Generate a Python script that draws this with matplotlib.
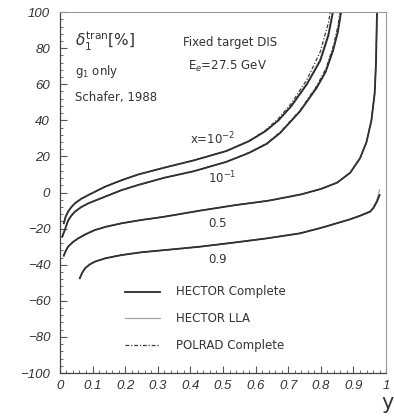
import matplotlib.pyplot as plt
from matplotlib.ticker import MultipleLocator

# radiative correction curves, one per Bjorken x, three calculations each
x_c1 = [0.012, 0.018, 0.025, 0.035, 0.046, 0.065, 0.087, 0.138, 0.19, 0.24, 0.32, 0.41, 0.51, 0.58, 0.63, 0.67, 0.71, 0.757, 0.798, 0.823, 0.837]
hec_c1 = [-17, -13.2, -10.6, -8.1, -6, -3.5, -1.4, 3.2, 6.9, 10, 13.8, 17.8, 23, 28.5, 34, 40, 48, 60, 73, 87, 100]
lla_c1 = [-17, -13.2, -10.6, -8.1, -6, -3.5, -1.4, 3.2, 6.9, 10, 13.8, 17.8, 23, 28.5, 34, 40, 48.5, 60.5, 74, 88.5, 101]
pol_c1 = [-17, -13.2, -10.6, -8.1, -6, -3.5, -1.4, 3.2, 6.9, 10, 13.8, 17.8, 23, 28.7, 34.5, 41, 49.5, 62.5, 78, 94, 108]

x_c2 = [0.007, 0.015, 0.025, 0.035, 0.046, 0.065, 0.087, 0.138, 0.19, 0.24, 0.32, 0.41, 0.51, 0.58, 0.634, 0.675, 0.736, 0.787, 0.815, 0.838, 0.852, 0.862]
hec_c2 = [-24.5, -20.8, -15.6, -12.8, -10.6, -8.1, -6, -2.3, 1.4, 4.2, 8.2, 11.8, 17, 22, 27, 33, 45, 58, 67, 79, 89, 100]
lla_c2 = [-24.5, -20.8, -15.6, -12.8, -10.6, -8.1, -6, -2.3, 1.4, 4.2, 8.2, 11.8, 17, 22, 27, 33, 45, 58.5, 67.5, 80, 90, 101]
pol_c2 = [-24.5, -20.8, -15.6, -12.8, -10.6, -8.1, -6, -2.3, 1.4, 4.2, 8.2, 11.8, 17, 22.2, 27.3, 33.5, 45.5, 59, 68.5, 81, 92, 104]

x_c3 = [0.012, 0.018, 0.025, 0.04, 0.056, 0.08, 0.107, 0.14, 0.19, 0.25, 0.32, 0.43, 0.54, 0.64, 0.74, 0.80, 0.85, 0.89, 0.92, 0.94, 0.955, 0.965, 0.969, 0.972]
hec_c3 = [-35, -32.3, -30, -27.4, -25.4, -23, -20.8, -19, -17, -15.2, -13.4, -10, -6.9, -4.5, -1, 2, 5.5, 11, 19, 28, 40, 55, 72, 100]
lla_c3 = [-35, -32.3, -30, -27.4, -25.4, -23, -20.8, -19, -17, -15.2, -13.4, -10, -6.9, -4.5, -1, 2, 5.5, 11, 19, 28.5, 41, 56, 74, 102]
pol_c3 = [-35, -32.3, -30, -27.4, -25.4, -23, -20.8, -19, -17, -15.2, -13.4, -10, -6.9, -4.5, -1, 2, 5.5, 11, 19, 28, 40, 55, 72, 100]

x_c4 = [0.061, 0.068, 0.077, 0.09, 0.107, 0.14, 0.19, 0.25, 0.32, 0.43, 0.53, 0.634, 0.736, 0.8, 0.849, 0.89, 0.92, 0.951, 0.961, 0.972, 0.98]
hec_c4 = [-47.5, -44.6, -42, -40, -38.3, -36.4, -34.6, -33.1, -31.9, -30, -27.8, -25.4, -22.6, -19.6, -17, -14.8, -12.9, -10.6, -8.6, -5, -1.4]
lla_c4 = [-47.5, -44.6, -42, -40, -38.3, -36.4, -34.6, -33.1, -31.9, -30, -27.8, -25.4, -22.6, -19.6, -17, -14.7, -12.7, -10.2, -8, -3.8, 1.5]
pol_c4 = [-47.5, -44.6, -42, -40, -38.3, -36.4, -34.6, -33.1, -31.9, -30, -27.8, -25.4, -22.6, -19.6, -17, -14.8, -12.9, -10.6, -8.6, -5, -1.4]

curve_x = [x_c1, x_c2, x_c3, x_c4]
hector_complete = [hec_c1, hec_c2, hec_c3, hec_c4]
hector_lla = [lla_c1, lla_c2, lla_c3, lla_c4]
polrad_complete = [pol_c1, pol_c2, pol_c3, pol_c4]

curve_labels = [r'x=10$^{-2}$', r'10$^{-1}$', '0.5', '0.9']
label_pos = [(0.40, 29.5), (0.455, 8), (0.455, -17), (0.455, -37)]

legend_names = ['HECTOR Complete', 'HECTOR LLA', 'POLRAD Complete']

fig = plt.figure(figsize=(3.94, 4.17), dpi=100)
ax = fig.add_axes([0.152, 0.1055, 0.828, 0.8655])

s_complete = dict(color='#2a2a2a', lw=1.3, ls='-')
s_lla = dict(color='#a8a8a8', lw=0.9, ls='-')
s_polrad = dict(color='#3a3a3a', lw=0.9, ls=(0, (3, 1.5, 1, 1.5)))

for xs, hc, hl, pc in zip(curve_x, hector_complete, hector_lla, polrad_complete):
    ax.plot(xs, hl, **s_lla)
    ax.plot(xs, hc, **s_complete)
    ax.plot(xs, pc, **s_polrad)

ax.set_xlim(0, 1)
ax.set_ylim(-100, 100)
ax.xaxis.set_major_locator(MultipleLocator(0.1))
ax.xaxis.set_minor_locator(MultipleLocator(0.02))
ax.yaxis.set_major_locator(MultipleLocator(20))
ax.yaxis.set_minor_locator(MultipleLocator(4))
ax.xaxis.set_major_formatter(lambda v, p: f'{v:.0f}' if v in (0, 1) else f'{v:.1f}')

ax.tick_params(which='both', direction='in', top=False, right=False, color='#555555')
ax.tick_params(which='major', length=5, width=0.8)
ax.tick_params(which='minor', length=2.5, width=0.6)
ax.tick_params(axis='y', pad=7)
ax.tick_params(axis='x', pad=5)
for lab in ax.get_xticklabels() + ax.get_yticklabels():
    lab.set_fontfamily('Liberation Sans')
    lab.set_fontstyle('italic')
    lab.set_fontsize(9.5)
    lab.set_color('#333333')

for side in ['left', 'bottom']:
    ax.spines[side].set_color('#444444')
    ax.spines[side].set_linewidth(0.9)
for side in ['top', 'right']:
    ax.spines[side].set_color('#9a9a9a')
    ax.spines[side].set_linewidth(0.8)

ax.set_xlabel('y', loc='right', fontsize=15, color='#333333', fontfamily='DejaVu Sans')
ax.xaxis.set_label_coords(1.024, -0.055)

txt = dict(fontsize=8.5, color='#333333', va='center', ha='left')
ax.text(0.045, 84, r'$\delta_1^{\rm tran}$[%]', fontsize=11, color='#333333', va='center')
ax.text(0.045, 67, r'g$_1$ only', **txt)
ax.text(0.045, 52.5, 'Schafer, 1988', **txt)
ax.text(0.377, 83, 'Fixed target DIS', **txt)
ax.text(0.393, 70, r'E$_e$=27.5 GeV', **txt)

for lab, (lx, ly) in zip(curve_labels, label_pos):
    ax.text(lx, ly, lab, **txt)

# hand-drawn legend block
leg_y = [-55, -69.7, -84.5]
for name, ly, st in zip(legend_names, leg_y, [s_complete, s_lla, s_polrad]):
    ax.plot([0.2, 0.307], [ly, ly], **st)
    ax.text(0.355, ly, name, **txt)

fig.savefig('out.png', dpi=100)
